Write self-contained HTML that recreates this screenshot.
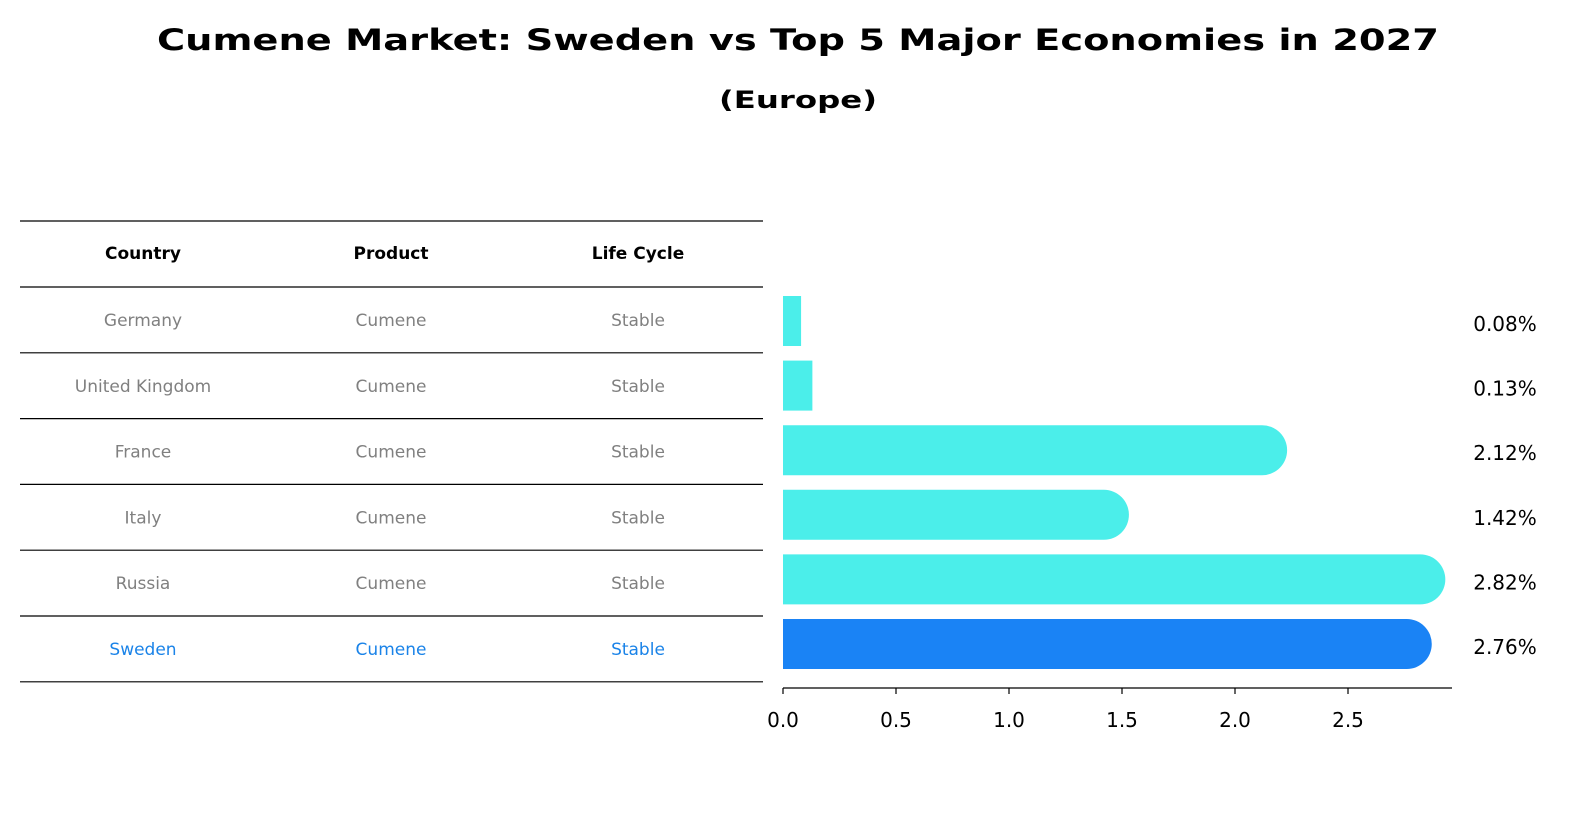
<!DOCTYPE html>
<html><head><meta charset="utf-8"><style>
body{margin:0;background:#fff;font-family:"Liberation Sans","DejaVu Sans",sans-serif;}
</style></head><body>
<svg width="1586" height="823" xmlns="http://www.w3.org/2000/svg" font-family="DejaVu Sans, Liberation Sans, sans-serif">
<rect width="1586" height="823" fill="#fff"/>
<text x="798" y="50" text-anchor="middle" font-size="29" font-weight="bold" textLength="1282" lengthAdjust="spacingAndGlyphs">Cumene Market: Sweden vs Top 5 Major Economies in 2027</text>
<text x="798" y="108" text-anchor="middle" font-size="24" font-weight="bold" textLength="158" lengthAdjust="spacingAndGlyphs">(Europe)</text>
<g id="table"></g>
<g id="bars"></g>
</svg>
<script>
const countries=["Germany","United Kingdom","France","Italy","Russia","Sweden"];
const products=["Cumene","Cumene","Cumene","Cumene","Cumene","Cumene"];
const lifeCycles=["Stable","Stable","Stable","Stable","Stable","Stable"];
const values=[0.08,0.13,2.12,1.42,2.82,2.76];
const valueLabels=["0.08%","0.13%","2.12%","1.42%","2.82%","2.76%"];
const ticks=[0,0.5,1.0,1.5,2.0,2.5];
const NS="http://www.w3.org/2000/svg";
function mk(tag,attrs,parent,text){const e=document.createElementNS(NS,tag);for(const k in attrs)e.setAttribute(k,attrs[k]);if(text!==undefined)e.textContent=text;parent.appendChild(e);return e;}
const tbl=document.getElementById('table');
const rowY=i=>287+i*65.8;
const colX=[143,391,638];
const heads=["Country","Product","Life Cycle"];
heads.forEach((h,j)=>{const t=mk('text',{x:colX[j],y:259,'text-anchor':'middle','font-size':'17','font-weight':'bold'},tbl,h);

});
for(let i=0;i<=countries.length+1;i++){const y=i==0?221:rowY(i-1);const l=mk('line',{x1:20,x2:763,y1:y,y2:y,stroke:'#000','stroke-width':1.2},tbl);

}
countries.forEach((c,i)=>{const col=c==="Sweden"?"#1a83e8":"#808080";[c,products[i],lifeCycles[i]].forEach((v,j)=>{const t=mk('text',{x:colX[j],y:rowY(i)+39,'text-anchor':'middle','font-size':'17',fill:col},tbl,v);

});});
const g=document.getElementById('bars');
const x0=783,sc=226,r=25;
const X=v=>x0+v*sc;
const bc=i=>321+i*64.6;
values.forEach((v,i)=>{const col=countries[i]==="Sweden"?"#1a83f5":"#4beeea";const y=bc(i)-r,w=X(v)-x0;let p;
if(w>2*r){p=mk('path',{d:`M${x0},${y}H${X(v)}A${r},${r} 0 0 1 ${X(v)},${y+2*r}H${x0}Z`,fill:col},g);}
else{p=mk('rect',{x:x0,y:y,width:w,height:2*r,fill:col},g);}


const t=mk('text',{x:1505,y:bc(i)+10,'text-anchor':'middle','font-size':'20'},g,valueLabels[i]);

});
const ax=mk('line',{x1:x0,x2:1452,y1:688,y2:688,stroke:'#000','stroke-width':1.3},g);


ticks.forEach(t=>{const l=mk('line',{x1:X(t),x2:X(t),y1:688,y2:694,stroke:'#000','stroke-width':1.2},g);


const tx=mk('text',{x:X(t),y:727,'text-anchor':'middle','font-size':'20'},g,t.toFixed(1));

});
</script>
</body></html>
